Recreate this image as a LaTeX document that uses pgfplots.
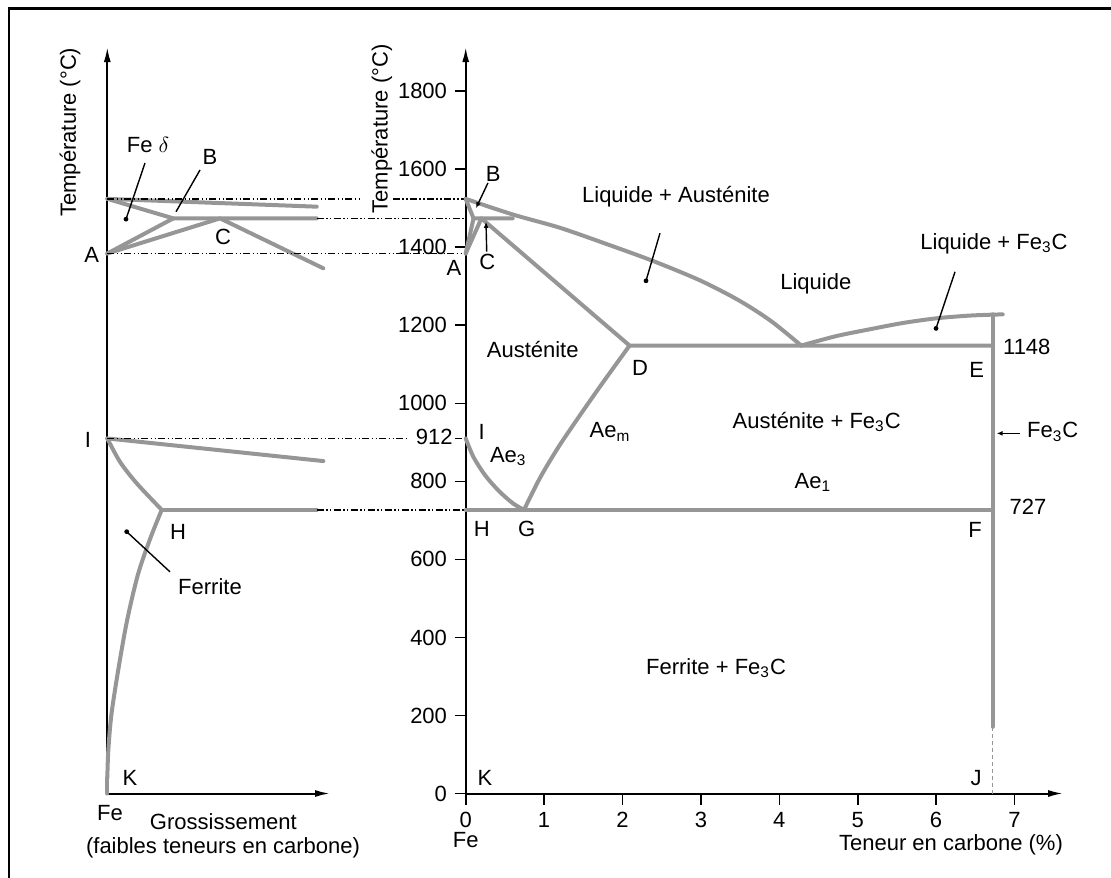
\documentclass[border=0pt]{standalone}
\usepackage{pgfplots}
\pgfplotsset{compat=1.18}
\usepackage{fontspec}
\setmainfont{Liberation Sans}
\usetikzlibrary{arrows.meta}
\definecolor{phasegray}{RGB}{150,150,150}
\begin{document}
\fontsize{11}{13}\selectfont
\begin{tikzpicture}[
  phase/.style={draw=phasegray, line width=2pt, no marks, line join=round, line cap=round},
  conn/.style={black, line width=0.8pt, dash pattern=on 3.5pt off 1.2pt on 0.7pt off 1.2pt on 0.7pt off 1.2pt},
  ptr/.style={black, line width=0.7pt},
  lbl/.style={font=\fontsize{11}{13}\selectfont, inner sep=0pt},
  dot/.style={circle, fill=black, inner sep=0pt, minimum size=2.4pt},
]
\useasboundingbox (0,0) rectangle (555.5pt,438.5pt);
\draw[line width=1.25pt] (4.5pt,-2pt) -- (4.5pt,434.25pt) -- (558pt,434.25pt);

% ---------------- left (magnified) panel ----------------
\begin{axis}[
  at={(53.65pt,41.75pt)}, anchor=south west,
  scale only axis, width=111.35pt, height=373.2pt,
  xmin=0, xmax=222.7, ymin=0, ymax=1913,
  axis lines=left,
  axis line style={line width=1pt, -{Latex[length=7.5pt,width=3.5pt]}},
  xtick=\empty, ytick=\empty, clip=false,
]
\addplot[phase] coordinates {(0,1524) (209.4,1504)};
\addplot[phase] coordinates {(0,1524) (66,1474) (209.4,1474)};
\addplot[phase] coordinates {(0,1384) (66,1474)};
\addplot[phase] coordinates {(0,1384) (112.7,1474) (216,1346)};
\addplot[phase] coordinates {(0,910) (216,852)};
\addplot[phase, smooth] coordinates {(0,910) (12.7,850) (29.4,795) (54.4,727)};
\addplot[phase] coordinates {(54.4,727) (209.4,727)};
\addplot[phase, smooth] coordinates {(54.4,727) (42.7,652) (30.5,560) (19.5,440) (10.5,310) (4,200) (1,110) (0,40)};
\addplot[phase] coordinates {(0,40) (0,0)};

\node[lbl] at (axis cs:40.7,1662) {Fe $\delta$};
\draw[ptr] (axis cs:37.7,1616) -- (axis cs:18.7,1472) node[dot] {};
\node[lbl] at (axis cs:102.7,1632) {B};
\draw[ptr] (axis cs:92.7,1598) -- (axis cs:68.7,1491);
\node[lbl] at (axis cs:115.7,1427) {C};
\node[lbl] at (axis cs:-15.6,1380) {A};
\node[lbl] at (axis cs:-19.3,906) {I};
\node[lbl] at (axis cs:70.7,671) {H};
\node[lbl] at (axis cs:102.7,530) {Ferrite};
\draw[ptr] (axis cs:62.7,568) -- (axis cs:19.4,671) node[dot] {};
\node[lbl] at (axis cs:22.7,41) {K};
\node[lbl] at (axis cs:2.7,-51) {Fe};
\node[lbl] at (axis cs:116,-72) {Grossissement};
\node[lbl] at (axis cs:115.7,-140) {(faibles teneurs en carbone)};
\node[lbl, rotate=90] at (axis cs:-37.3,1695) {Température (°C)};
\end{axis}

% ---------------- main panel ----------------
\begin{axis}[
  at={(232.85pt,41.75pt)}, anchor=south west,
  scale only axis, width=298.7pt, height=373.2pt,
  xmin=0, xmax=7.62, ymin=0, ymax=1913,
  axis lines=left,
  axis line style={line width=1pt, -{Latex[length=7.5pt,width=3.5pt]}},
  xtick={0,1,...,7}, ytick={0,200,...,1800},
  tick align=outside, major tick length=5.5pt,
  tick style={black, line width=0.8pt},
  ticklabel style={font=\fontsize{11}{13}\selectfont},
  /pgf/number format/assume math mode=true,
  /pgf/number format/1000 sep={},
  clip=false,
]
% connecting dash-dot lines
\draw[conn] (axis cs:-4.571,1524) -- (axis cs:-1.326,1524);
\draw[conn] (axis cs:-0.927,1524) -- (axis cs:0,1524);
\draw[conn] (axis cs:-1.900,1474) -- (axis cs:0,1474);
\draw[conn] (axis cs:-4.571,1384) -- (axis cs:0,1384);
\draw[conn] (axis cs:-4.571,910) -- (axis cs:-0.755,910);
\draw[conn] (axis cs:-0.14,910) -- (axis cs:0,910);
\draw[conn] (axis cs:-1.900,727) -- (axis cs:0,727);

\addplot[phase, smooth] coordinates {(0,1524) (0.6,1484) (1.2,1450) (1.8,1408) (2.4,1364) (3.0,1314) (3.5,1262) (3.9,1210) (4.28,1148)};
\addplot[phase] coordinates {(0,1524) (0.1,1474) (0.6,1474)};
\addplot[phase] coordinates {(0,1384) (0.1,1474)};
\addplot[phase] coordinates {(0,1384) (0.2,1474) (2.09,1148) (6.72,1148)};
\addplot[phase, smooth] coordinates {(4.28,1148) (4.72,1172) (5.16,1190) (5.58,1206) (6.01,1218) (6.44,1225) (6.85,1228)};
\addplot[phase] coordinates {(6.72,1228) (6.72,171)};
\addplot[draw=phasegray, line width=0.8pt, dash pattern=on 2pt off 1.5pt] coordinates {(6.72,171) (6.72,0)};
\addplot[phase, smooth] coordinates {(0.744,727) (0.948,809) (1.177,886) (1.432,962) (1.738,1050) (2.09,1148)};
\addplot[phase, smooth] coordinates {(0,910) (0.1,862) (0.25,815) (0.42,776) (0.6,744) (0.744,727)};
\addplot[phase] coordinates {(0,727) (6.72,727)};

% labels
\node[lbl] at (axis cs:0.352,1588) {B};
\draw[ptr, -{Latex[length=3pt,width=2.5pt]}] (axis cs:0.284,1565) -- (axis cs:0.131,1500);
\node[lbl] at (axis cs:0.276,1363) {C};
\draw[ptr, -{Latex[length=3pt,width=2.5pt]}] (axis cs:0.268,1389) -- (axis cs:0.259,1465);
\node[lbl] at (axis cs:-0.149,1346) {A};
\node[lbl, anchor=west] at (axis cs:1.48,1529) {Liquide + Austénite};
\draw[ptr] (axis cs:2.478,1436) -- (axis cs:2.30,1314) node[dot] {};
\node[lbl, anchor=east] at (axis cs:4.923,1307) {Liquide};
\node[lbl] at (axis cs:6.738,1410) {Liquide + Fe\textsubscript{3}C};
\draw[ptr] (axis cs:6.241,1337) -- (axis cs:5.999,1192) node[dot] {};
\node[lbl, anchor=west] at (axis cs:6.85,1145) {1148};
\node[lbl] at (axis cs:6.518,1085) {E};
\draw[ptr, -{Latex[length=3pt,width=2.5pt]}] (axis cs:7.07,923) -- (axis cs:6.773,923);
\node[lbl, anchor=west] at (axis cs:7.156,927) {Fe\textsubscript{3}C};
\node[lbl, anchor=west] at (axis cs:6.934,735) {727};
\node[lbl] at (axis cs:6.496,675) {F};
\node[lbl] at (axis cs:6.509,39) {J};
\node[lbl] at (axis cs:0.246,40) {K};
\node[lbl] at (axis cs:0.204,677) {H};
\node[lbl] at (axis cs:0.778,677) {G};
\node[lbl] at (axis cs:0.204,927) {I};
\node[lbl] at (axis cs:0.543,863) {Ae\textsubscript{3}};
\node[lbl] at (axis cs:1.84,927) {Ae\textsubscript{m}};
\node[lbl] at (axis cs:0.855,1138) {Austénite};
\node[lbl] at (axis cs:2.223,1090) {D};
\node[lbl] at (axis cs:4.477,952) {Austénite + Fe\textsubscript{3}C};
\node[lbl] at (axis cs:4.428,798) {Ae\textsubscript{1}};
\node[lbl] at (axis cs:3.193,321) {Ferrite + Fe\textsubscript{3}C};
\node[lbl] at (axis cs:-0.402,914) {912};
\node[lbl] at (axis cs:0,-120) {Fe};
\node[lbl] at (axis cs:6.19,-132) {Teneur en carbone (\%)};
\node[lbl, rotate=90] at (axis cs:-1.071,1703) {Température (°C)};
\end{axis}
\end{tikzpicture}
\end{document}
